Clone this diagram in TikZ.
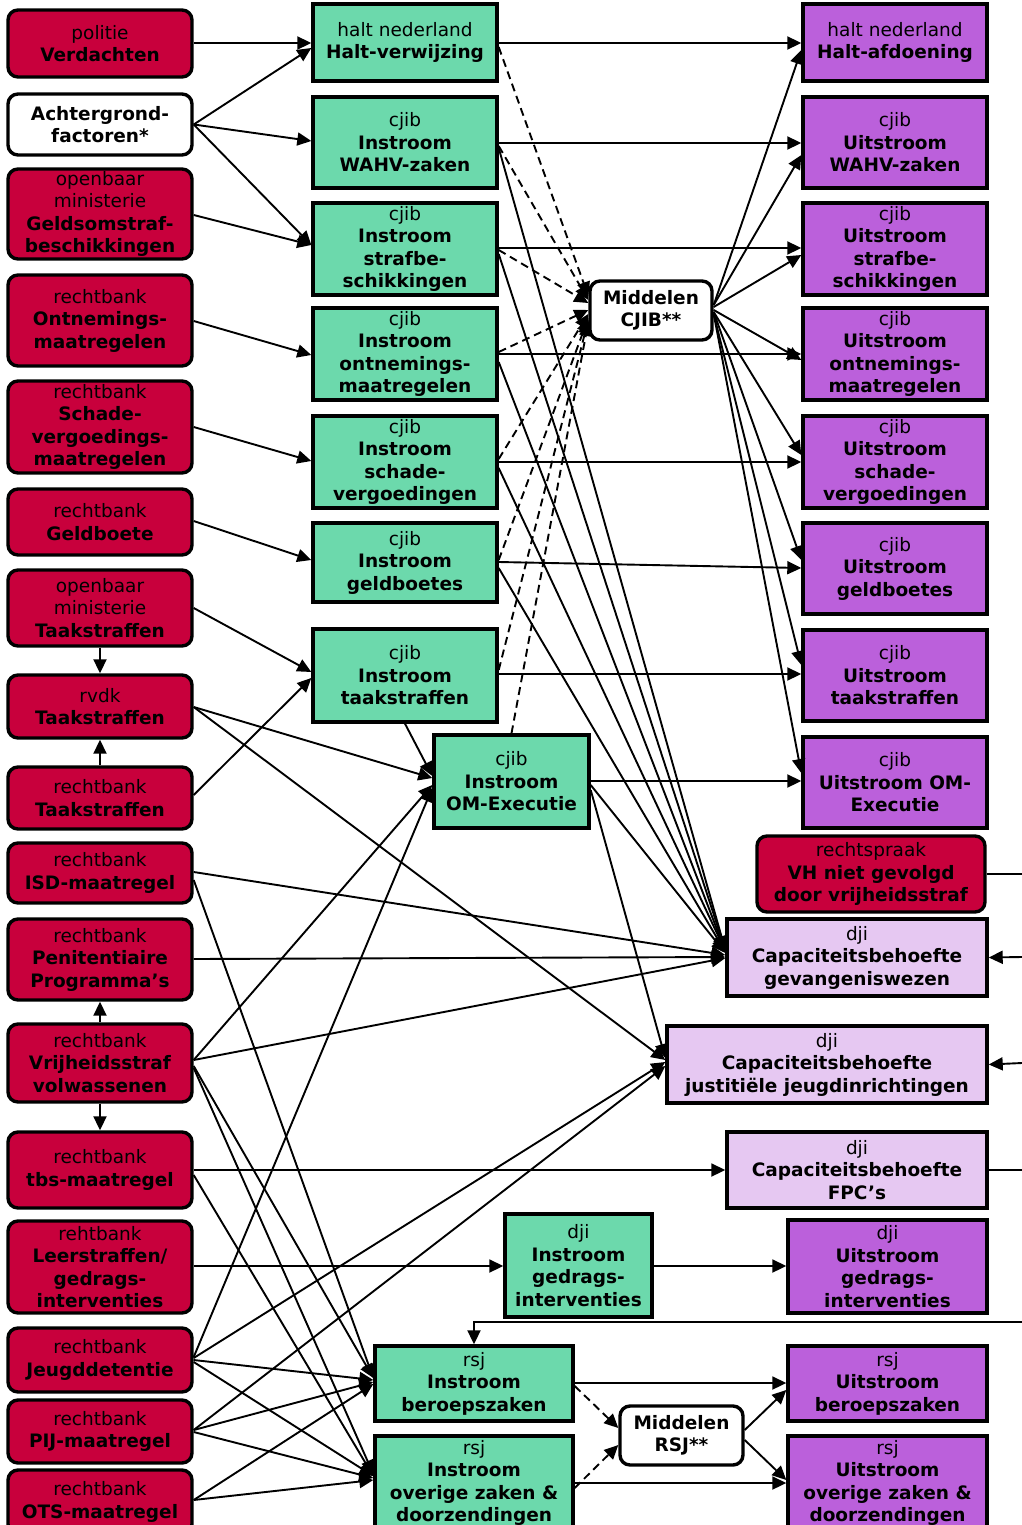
\documentclass[tikz,border=0pt]{standalone}
\usepackage{fontspec}
\setmainfont{DejaVu Sans}
\usetikzlibrary{arrows.meta}
\definecolor{cRed}{RGB}{200,0,60}
\definecolor{cGreen}{RGB}{108,217,172}
\definecolor{cPurple}{RGB}{187,96,219}
\definecolor{cLilac}{RGB}{230,200,242}
\tikzset{
 box/.style={draw=black, line width=3.4pt, align=center, inner sep=0pt, font=\fontsize{18.5}{22.5}\selectfont, text=black},
 rbox/.style={box, fill=cRed, rounded corners=10pt},
 wbox/.style={box, fill=white, rounded corners=10pt},
 gbox/.style={box, fill=cGreen},
 pbox/.style={box, fill=cPurple},
 lbox/.style={box, fill=cLilac},
 conn/.style={line width=1.9pt, -{Triangle[length=14pt,width=13pt]}},
 dconn/.style={conn, dash pattern=on 8pt off 5pt},
 plainline/.style={line width=1.9pt},
}
\begin{document}
\begin{tikzpicture}[x=1pt,y=-1pt]
\useasboundingbox (0,0) rectangle (1022,1525);
\clip (0,0) rectangle (1022,1525);
% left column
\node[rbox, minimum width=184pt, minimum height=67pt] (L1) at (100,43.5) {politie\\\textbf{Verdachten}};
\node[wbox, minimum width=184pt, minimum height=61pt] (L2) at (100,124.5) {\textbf{Achtergrond-}\\\textbf{factoren*}};
\node[rbox, minimum width=184pt, minimum height=90pt] (L3) at (100,214) {openbaar\\ministerie\\\textbf{Geldsomstraf-}\\\textbf{beschikkingen}};
\node[rbox, minimum width=184pt, minimum height=91pt] (L4) at (100,320.5) {rechtbank\\\textbf{Ontnemings-}\\\textbf{maatregelen}};
\node[rbox, minimum width=184pt, minimum height=92pt] (L5) at (100,427) {rechtbank\\\textbf{Schade-}\\\textbf{vergoedings-}\\\textbf{maatregelen}};
\node[rbox, minimum width=184pt, minimum height=66pt] (L6) at (100,522) {rechtbank\\\textbf{Geldboete}};
\node[rbox, minimum width=184pt, minimum height=76pt] (L7) at (100,608) {openbaar\\ministerie\\\textbf{Taakstraffen}};
\node[rbox, minimum width=184pt, minimum height=63pt] (L8) at (100,706.5) {rvdk\\\textbf{Taakstraffen}};
\node[rbox, minimum width=184pt, minimum height=62pt] (L9) at (100,798) {rechtbank\\\textbf{Taakstraffen}};
\node[rbox, minimum width=184pt, minimum height=60pt] (L10) at (100,873) {rechtbank\\\textbf{ISD-maatregel}};
\node[rbox, minimum width=184pt, minimum height=81pt] (L11) at (100,959.5) {rechtbank\\\textbf{Penitentiaire}\\\textbf{Programma’s}};
\node[rbox, minimum width=184pt, minimum height=78pt] (L12) at (100,1063) {rechtbank\\\textbf{Vrijheidsstraf}\\\textbf{volwassenen}};
\node[rbox, minimum width=184pt, minimum height=76pt] (L13) at (100,1170) {rechtbank\\\textbf{tbs-maatregel}};
\node[rbox, minimum width=184pt, minimum height=92pt] (L14) at (100,1267) {rehtbank\\\textbf{Leerstraffen/}\\\textbf{gedrags-}\\\textbf{interventies}};
\node[rbox, minimum width=184pt, minimum height=64pt] (L15) at (100,1360) {rechtbank\\\textbf{Jeugddetentie}};
\node[rbox, minimum width=184pt, minimum height=63pt] (L16) at (100,1431.5) {rechtbank\\\textbf{PIJ-maatregel}};
\node[rbox, minimum width=184pt, minimum height=64pt] (L17) at (100,1502) {rechtbank\\\textbf{OTS-maatregel}};
% green column
\node[gbox, minimum width=184pt, minimum height=77pt] (G1) at (405,42.5) {halt nederland\\\textbf{Halt-verwijzing}};
\node[gbox, minimum width=184pt, minimum height=91pt] (G2) at (405,142.5) {cjib\\\textbf{Instroom}\\\textbf{WAHV-zaken}};
\node[gbox, minimum width=184pt, minimum height=92pt] (G3) at (405,249) {cjib\\\textbf{Instroom}\\\textbf{strafbe-}\\\textbf{schikkingen}};
\node[gbox, minimum width=184pt, minimum height=92pt] (G4) at (405,354) {cjib\\\textbf{Instroom}\\\textbf{ontnemings-}\\\textbf{maatregelen}};
\node[gbox, minimum width=184pt, minimum height=92pt] (G5) at (405,462) {cjib\\\textbf{Instroom}\\\textbf{schade-}\\\textbf{vergoedingen}};
\node[gbox, minimum width=184pt, minimum height=79pt] (G6) at (405,562.5) {cjib\\\textbf{Instroom}\\\textbf{geldboetes}};
\node[gbox, minimum width=184pt, minimum height=93pt] (G7) at (405,675.5) {cjib\\\textbf{Instroom}\\\textbf{taakstraffen}};
\node[gbox, minimum width=155pt, minimum height=93pt] (G8) at (511.5,781.5) {cjib\\\textbf{Instroom}\\\textbf{OM-Executie}};
\node[gbox, minimum width=147pt, minimum height=103pt] (G9) at (578.5,1265.5) {dji\\\textbf{Instroom}\\\textbf{gedrags-}\\\textbf{interventies}};
\node[gbox, minimum width=198pt, minimum height=75pt] (G10) at (474,1383.5) {rsj\\\textbf{Instroom}\\\textbf{beroepszaken}};
\node[gbox, minimum width=198pt, minimum height=94pt] (G11) at (474,1483) {rsj\\\textbf{Instroom}\\\textbf{overige zaken \&}\\\textbf{doorzendingen}};
% purple column
\node[pbox, minimum width=184pt, minimum height=77pt] (P1) at (895,42.5) {halt nederland\\\textbf{Halt-afdoening}};
\node[pbox, minimum width=184pt, minimum height=91pt] (P2) at (895,142.5) {cjib\\\textbf{Uitstroom}\\\textbf{WAHV-zaken}};
\node[pbox, minimum width=184pt, minimum height=92pt] (P3) at (895,249) {cjib\\\textbf{Uitstroom}\\\textbf{strafbe-}\\\textbf{schikkingen}};
\node[pbox, minimum width=184pt, minimum height=92pt] (P4) at (895,354) {cjib\\\textbf{Uitstroom}\\\textbf{ontnemings-}\\\textbf{maatregelen}};
\node[pbox, minimum width=184pt, minimum height=92pt] (P5) at (895,462) {cjib\\\textbf{Uitstroom}\\\textbf{schade-}\\\textbf{vergoedingen}};
\node[pbox, minimum width=184pt, minimum height=91pt] (P6) at (895,568.5) {cjib\\\textbf{Uitstroom}\\\textbf{geldboetes}};
\node[pbox, minimum width=184pt, minimum height=91pt] (P7) at (895,675.5) {cjib\\\textbf{Uitstroom}\\\textbf{taakstraffen}};
\node[pbox, minimum width=184pt, minimum height=91pt] (P8) at (895,782.5) {cjib\\\textbf{Uitstroom OM-}\\\textbf{Executie}};
\node[pbox, minimum width=199pt, minimum height=93pt] (P9) at (887.5,1266.5) {dji\\\textbf{Uitstroom}\\\textbf{gedrags-}\\\textbf{interventies}};
\node[pbox, minimum width=199pt, minimum height=75pt] (P10) at (887.5,1383.5) {rsj\\\textbf{Uitstroom}\\\textbf{beroepszaken}};
\node[pbox, minimum width=199pt, minimum height=94pt] (P11) at (887.5,1483) {rsj\\\textbf{Uitstroom}\\\textbf{overige zaken \&}\\\textbf{doorzendingen}};
% others
\node[rbox, minimum width=228pt, minimum height=76pt] (VH) at (871,874) {rechtspraak\\\textbf{VH niet gevolgd}\\\textbf{door vrijheidsstraf}};
\node[lbox, minimum width=260pt, minimum height=77pt] (D1) at (857,957.5) {dji\\\textbf{Capaciteitsbehoefte}\\\textbf{gevangeniswezen}};
\node[lbox, minimum width=320pt, minimum height=77pt] (D2) at (827,1064.5) {dji\\\textbf{Capaciteitsbehoefte}\\\textbf{justitiële jeugdinrichtingen}};
\node[lbox, minimum width=260pt, minimum height=76pt] (D3) at (857,1170) {dji\\\textbf{Capaciteitsbehoefte}\\\textbf{FPC’s}};
\node[wbox, minimum width=122pt, minimum height=59pt] (M1) at (651,310.5) {\textbf{Middelen}\\\textbf{CJIB**}};
\node[wbox, minimum width=123pt, minimum height=59pt] (M2) at (681.5,1435.5) {\textbf{Middelen}\\\textbf{RSJ**}};
% free ends
\coordinate (eVH) at (1022,874);
\coordinate (eD1) at (1022,957);
\coordinate (eD2) at (1022,1063);
\coordinate (eD3) at (1022,1170);
\coordinate (eR) at (1022,1322);
% left -> middle
\draw[conn] (L1.east |- 0,43) -- (G1.west |- 0,43);
\draw[conn] (L2.east) -- (G1.west |- 0,48);
\draw[conn] (L2.east) -- (G2.west |- 0,141);
\draw[conn] (L2.east) -- (G3.west |- 0,245);
\draw[conn] (L3.east |- 0,215) -- (G3.west |- 0,245);
\draw[conn] (L4.east |- 0,321) -- (G4.west |- 0,355);
\draw[conn] (L5.east |- 0,427) -- (G5.west |- 0,461);
\draw[conn] (L6.east |- 0,521) -- (G6.west |- 0,560);
\draw[conn] (L7.east |- 0,608) -- (G7.west |- 0,672);
\draw[conn] (L9.east |- 0,795) -- (G7.west |- 0,678);
\draw[conn] (L7.south) -- (L8.north);
\draw[conn] (L9.north) -- (L8.south);
\draw[conn] (L8.east |- 0,707) -- (G8.west |- 0,778);
\draw[conn] (L8.east |- 0,707) -- (D2.west |- 0,1060);
\draw[conn] (L10.east |- 0,872) -- (D1.west |- 0,955);
\draw[conn] (L10.east |- 0,880) -- (G10.west |- 0,1378);
\draw[conn] (L11.east |- 0,959) -- (D1.west |- 0,957);
\draw[conn] (L12.north) -- (L11.south);
\draw[conn] (L12.south) -- (L13.north);
\draw[conn] (L12.east |- 0,1060) -- (D1.west |- 0,958);
\draw[conn] (L12.east |- 0,1060) -- (G8.west |- 0,785);
\draw[conn] (L12.east |- 0,1066) -- (G10.west |- 0,1378);
\draw[conn] (L12.east |- 0,1068) -- (G11.west |- 0,1474);
\draw[conn] (L13.east |- 0,1170) -- (D3.west |- 0,1170);
\draw[conn] (L13.east |- 0,1175) -- (G11.west |- 0,1476);
\draw[conn] (L14.east |- 0,1266) -- (G9.west |- 0,1266);
\draw[conn] (L15.east |- 0,1357) -- (G8.west |- 0,788);
\draw[conn] (L15.east |- 0,1358) -- (D2.west |- 0,1062);
\draw[conn] (L15.east |- 0,1360) -- (G10.west |- 0,1380);
\draw[conn] (L15.east |- 0,1362) -- (G11.west |- 0,1476);
\draw[conn] (L16.east |- 0,1430) -- (D2.west |- 0,1066);
\draw[conn] (L16.east |- 0,1430) -- (G10.west |- 0,1382);
\draw[conn] (L16.east |- 0,1432) -- (G11.west |- 0,1478);
\draw[conn] (L17.east |- 0,1500) -- (G10.west |- 0,1384);
\draw[conn] (L17.east |- 0,1500) -- (G11.west |- 0,1480);
% middle
\draw[conn] (G7.south) -- (G8.west |- 0,776);
\draw[conn] (G1.east |- 0,43) -- (P1.west |- 0,43);
\draw[conn] (G2.east |- 0,143) -- (P2.west |- 0,143);
\draw[conn] (G3.east |- 0,248) -- (P3.west |- 0,248);
\draw[conn] (G4.east |- 0,354) -- (P4.west |- 0,354);
\draw[conn] (G5.east |- 0,462) -- (P5.west |- 0,462);
\draw[conn] (G6.east |- 0,562) -- (P6.west |- 0,568);
\draw[conn] (G7.east |- 0,674) -- (P7.west |- 0,674);
\draw[conn] (G8.east |- 0,781) -- (P8.west |- 0,781);
\draw[conn] (G2.east |- 0,148) -- (D1.west |- 0,950);
\draw[conn] (G3.east |- 0,254) -- (D1.west |- 0,950);
\draw[conn] (G4.east |- 0,362) -- (D1.west |- 0,951);
\draw[conn] (G5.east |- 0,468) -- (D1.west |- 0,951);
\draw[conn] (G6.east |- 0,568) -- (D1.west |- 0,952);
\draw[conn] (G8.east |- 0,785) -- (D1.west |- 0,953);
\draw[conn] (G8.east |- 0,790) -- (D2.west |- 0,1058);
% dashed to Middelen CJIB
\draw[dconn] (G1.east |- 0,47) -- (M1.west |- 0,296);
\draw[dconn] (G2.east |- 0,146) -- (M1.west |- 0,300);
\draw[dconn] (G3.east |- 0,250) -- (M1.west |- 0,303);
\draw[dconn] (G4.east |- 0,352) -- (M1.west |- 0,310);
\draw[dconn] (G5.east |- 0,459) -- (M1.west |- 0,314);
\draw[dconn] (G6.east |- 0,560) -- (M1.west |- 0,318);
\draw[dconn] (G7.east |- 0,670) -- (M1.west |- 0,320);
\draw[dconn] (G8.north) -- (M1.west |- 0,322);
% Middelen CJIB -> outflow
\draw[conn] (M1.east |- 0,305) -- (P1.west |- 0,50);
\draw[conn] (M1.east |- 0,305) -- (P2.west |- 0,155);
\draw[conn] (M1.east |- 0,307) -- (P3.west |- 0,255);
\draw[conn] (M1.east |- 0,310) -- (P4.west |- 0,360);
\draw[conn] (M1.east |- 0,312) -- (P5.west |- 0,455);
\draw[conn] (M1.east |- 0,312) -- (P6.west |- 0,560);
\draw[conn] (M1.east |- 0,314) -- (P7.west |- 0,665);
\draw[conn] (M1.east |- 0,314) -- (P8.west |- 0,773);
% bottom
\draw[conn] (G9.east |- 0,1266) -- (P9.west |- 0,1266);
\draw[conn] (G10.east |- 0,1383) -- (P10.west |- 0,1383);
\draw[conn] (G11.east |- 0,1483) -- (P11.west |- 0,1483);
\draw[dconn] (G10.east |- 0,1386) -- (M2.west |- 0,1428);
\draw[dconn] (G11.east |- 0,1488) -- (M2.west |- 0,1445);
\draw[conn] (M2.east |- 0,1430) -- (P10.west |- 0,1390);
\draw[conn] (M2.east |- 0,1440) -- (P11.west |- 0,1480);
% right edge
\draw[plainline] (VH.east) -- (eVH);
\draw[conn] (eD1) -- (D1.east);
\draw[conn] (eD2) -- (D2.east);
\draw[plainline] (D3.east) -- (eD3);
\draw[conn] (eR) -| (G10.north);
\end{tikzpicture}
\end{document}
